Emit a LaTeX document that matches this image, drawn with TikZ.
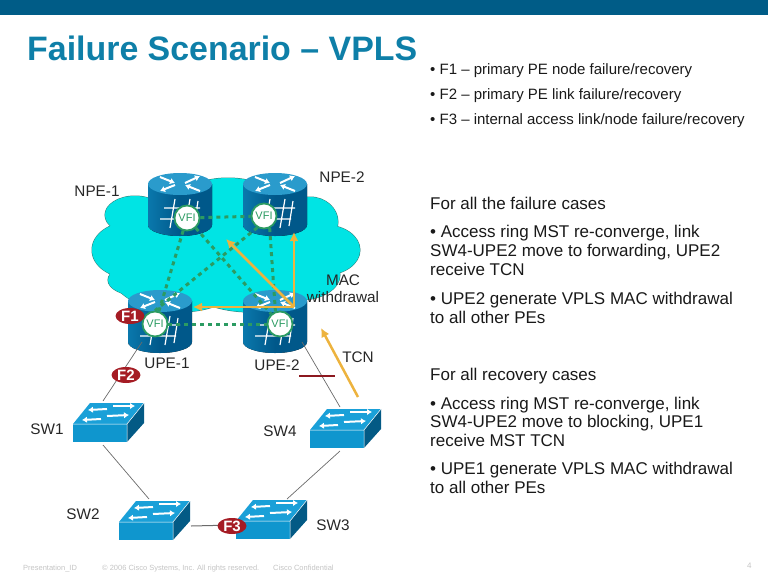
\documentclass[tikz,border=0pt]{standalone}
\usepackage{fontspec}
\setmainfont{Liberation Sans}
\usetikzlibrary{arrows.meta, shapes.geometric}
\definecolor{barblue}{HTML}{005C87}
\definecolor{titleblue}{HTML}{0E7FA8}
\definecolor{cloudfill}{HTML}{00E4E4}
\definecolor{cloudedge}{HTML}{2F7F78}
\definecolor{routerdark}{HTML}{00588A}
\definecolor{routerlite}{HTML}{0A78AC}
\definecolor{routertop}{HTML}{2A9BCC}
\definecolor{swfront}{HTML}{0F96CE}
\definecolor{swtop}{HTML}{1AA0D8}
\definecolor{swside}{HTML}{035A85}
\definecolor{vfigreen}{HTML}{2B9B62}
\definecolor{arrowgold}{HTML}{EDB33E}
\definecolor{failred}{HTML}{A51C24}
\definecolor{linkgray}{HTML}{6A6A6A}
\definecolor{footgray}{HTML}{C4C4C4}
\tikzset{
  vfi/.style={circle, draw=vfigreen, line width=1.8pt, fill=white, text=vfigreen,
      font=\fontsize{11}{11}\selectfont, inner sep=0pt, minimum size=25pt},
  fail/.style={ellipse, fill=failred, text=white, inner sep=0pt,
      font=\fontsize{15}{15}\selectfont\bfseries, minimum width=29pt, minimum height=16pt},
  lab/.style={font=\fontsize{15.3}{15.3}\selectfont, inner sep=0pt, text=black!85},
  txt/.style={anchor=base west, inner sep=0pt, font=\fontsize{17}{17}\selectfont, text=black!90},
  foot/.style={anchor=base west, inner sep=0pt, text=footgray, font=\fontsize{7.5}{8}\selectfont},
  pw/.style={vfigreen, line width=3pt, dash pattern=on 4pt off 4pt},
  link/.style={linkgray, line width=0.7pt},
  mac/.style={arrowgold, line width=2.5pt, -{Latex[length=9pt,width=9pt]}},
  ico/.style={white, line width=2pt, -{Latex[length=5pt,width=6.5pt]}},
  % cylinder with crossing arrows; #1/#2 place the VFI circle
  pics/router/.style 2 args={code={
      \fill[left color=routerlite, right color=routerdark, middle color=routerdark]
      (-32,0) -- (-32,41) arc[start angle=180, end angle=0, x radius=32, y radius=11] -- (32,0) -- cycle;
      \fill[routertop] (0,0) ellipse[x radius=32, y radius=11];
      \draw[ico] (-20,-7) -- (-5,-1);
      \draw[ico] (5,-1) -- (20,-8);
      \draw[ico] (-5,1) -- (-20,7);
      \draw[ico] (20,7) -- (5,1);
      % hash on the front
      \draw[white, line width=1.2pt]
      (-16,24) -- (20,24) (-20,35) -- (16,35)
      (-10,44) -- (-5,15) (5,44) -- (10,15) (14,42) -- (18,17);
      \node[vfi] (-vfi) at (#1,#2) {VFI};
    }},
  % switch box, origin at the top left of the front face
  pics/lanswitch/.style={code={
      \fill[swtop] (0,0) -- (54,0) -- (71,-21) -- (17,-21) -- cycle;
      \fill[swside] (54,0) -- (71,-21) -- (71,-1) -- (54,18) -- cycle;
      \fill[swfront] (0,0) rectangle (54,18);
      \draw[white, line width=0.5pt] (0,0) -- (54,0) -- (54,18) (54,0) -- (71,-21);
      \draw[ico] (34,-15) -- (15,-14);
      \draw[ico] (40,-18) -- (62,-18);
      \draw[ico] (28,-5) -- (9,-4);
      \draw[ico] (34,-8) -- (56,-9);
      \coordinate (-top) at (30,-23);
      \coordinate (-topr) at (51,-22);
      \coordinate (-bot) at (30,21);
      \coordinate (-east) at (72,4);
      \coordinate (-west) at (-2,4);
    }},
}
\begin{document}
\begin{tikzpicture}[x=1pt, y=-1pt]
  \useasboundingbox (0,0) rectangle (768,576);

  % ---- Header bar and title ----
  \fill[barblue] (0,0) rectangle (768,15);
  \node[anchor=base west, inner sep=0pt, text=titleblue,
    font=\fontsize{33.9}{34}\selectfont\bfseries] (title) at (27,60) {Failure Scenario -- VPLS};

  % ---- Failure list ----
  \foreach \y/\lab in {
      74/{• F1 -- primary PE node failure/recovery},
      99/{• F2 -- primary PE link failure/recovery},
      124/{• F3 -- internal access link/node failure/recovery}}{
      \node[txt, font=\fontsize{15}{15}\selectfont] (fl\y) at (430,\y) {\lab};
    }

  % ---- Body text ----
  \foreach \y/\lab in {
      209/{For all the failure cases},
      237/{• Access ring MST re-converge, link},
      256/{SW4-UPE2 move to forwarding, UPE2},
      275/{receive TCN},
      304/{• UPE2 generate VPLS MAC withdrawal},
      323/{to all other PEs},
      380/{For all recovery cases},
      409/{• Access ring MST re-converge, link},
      427/{SW4-UPE2 move to blocking, UPE1},
      446/{receive MST TCN},
      474/{• UPE1 generate VPLS MAC withdrawal},
      493/{to all other PEs}}{
      \node[txt] (bd\y) at (430,\y) {\lab};
    }

  % ---- Cloud: outlined lobes, then the fill over them ----
  \foreach \cx/\cy/\rx/\ry in {
      130/250/38/28, 135/215/30/19, 140/280/32/16, 180/270/70/42, 250/270/75/42,
      325/250/35/25, 310/222/28/25, 300/275/40/25, 228/215/60/37}{
      \draw[cloudedge, line width=1pt] (\cx,\cy) ellipse[x radius=\rx, y radius=\ry];
    }
  \foreach \cx/\cy/\rx/\ry in {
      130/250/38/28, 135/215/30/19, 140/280/32/16, 180/270/70/42, 250/270/75/42,
      325/250/35/25, 310/222/28/25, 300/275/40/25, 228/215/60/37}{
      \fill[cloudfill] (\cx,\cy) ellipse[x radius=\rx, y radius=\ry];
    }

  % ---- Routers ----
  \pic (npea) at (180,184) {router={7}{34}};
  \pic (npeb) at (275,184) {router={-11}{32}};
  \pic (upea) at (160,301) {router={-5}{23}};
  \pic (upeb) at (275,301) {router={5}{23}};

  % ---- Switches ----
  \pic (swa) at (73,424) {lanswitch};
  \pic (swb) at (119,522) {lanswitch};
  \pic (swc) at (236,521) {lanswitch};
  \pic (swd) at (310,430) {lanswitch};

  % ---- Pseudowire mesh ----
  \draw[pw] (npea-vfi) -- (npeb-vfi);
  \draw[pw] (npea-vfi) -- (upea-vfi);
  \draw[pw] (npea-vfi) -- (upeb-vfi);
  \draw[pw] (npeb-vfi.-120) -- (upea-vfi.north);
  \draw[pw] (npeb-vfi.-65) -- (upeb-vfi.110);
  \draw[pw] (upea-vfi) -- (upeb-vfi);

  % ---- Access ring ----
  \coordinate (upeafoot) at (142,342);
  \coordinate (upebfoot) at (302,342);
  \draw[link] (upeafoot) -- (swa-top);
  \draw[link] (swa-bot) -- (swb-top);
  \draw[link, line width=1pt] (swb-east) -- (swc-west);
  \draw[link] (swc-topr) -- (swd-bot);
  \draw[link] (swd-top) -- (upebfoot);

  % ---- MAC withdrawal and TCN arrows ----
  \coordinate (macsrc) at (294,307);
  \coordinate (macupe) at (193,307);
  \coordinate (macnpea) at (226,239);
  \coordinate (macnpeb) at (294,232);
  \coordinate (tcnsrc) at (358,397);
  \coordinate (tcndst) at (321,328);
  \draw[mac] (macsrc) -- (macupe);
  \draw[mac] (macsrc) -- (macnpea);
  \draw[mac] (macsrc) -- (macnpeb);
  \draw[mac] (tcnsrc) -- (tcndst);

  % ---- Blocked port bar ----
  \draw[failred!85!black, line width=2.6pt] (299,376) -- (335,376);

  % ---- Failure markers ----
  \node[fail] (fa) at (130,316) {F1};
  \node[fail] (fb) at (126,375) {F2};
  \node[fail] (fc) at (232,526) {F3};

  % ---- Device labels ----
  \node[lab] (npealab) at (97,191) {NPE-1};
  \node[lab] (npeblab) at (342,177) {NPE-2};
  \node[lab] (upealab) at (167,363) {UPE-1};
  \node[lab] (upeblab) at (277,365) {UPE-2};
  \node[lab] (macA) at (343,280) {MAC};
  \node[lab] (macB) at (343,297) {withdrawal};
  \node[lab] (tcnlab) at (358,357) {TCN};
  \node[lab] (swalab) at (47,429) {SW1};
  \node[lab] (swdlab) at (280,431) {SW4};
  \node[lab] (swblab) at (83,514) {SW2};
  \node[lab] (swclab) at (333,525) {SW3};

  % ---- Footer ----
  \node[foot] (ftA) at (23,570) {Presentation\_ID};
  \node[foot] (ftB) at (102,570) {© 2006 Cisco Systems, Inc. All rights reserved.};
  \node[foot] (ftC) at (273,570) {Cisco Confidential};
  \node[foot, font=\fontsize{8}{8}\selectfont] (ftD) at (747,568) {4};
\end{tikzpicture}
\end{document}
